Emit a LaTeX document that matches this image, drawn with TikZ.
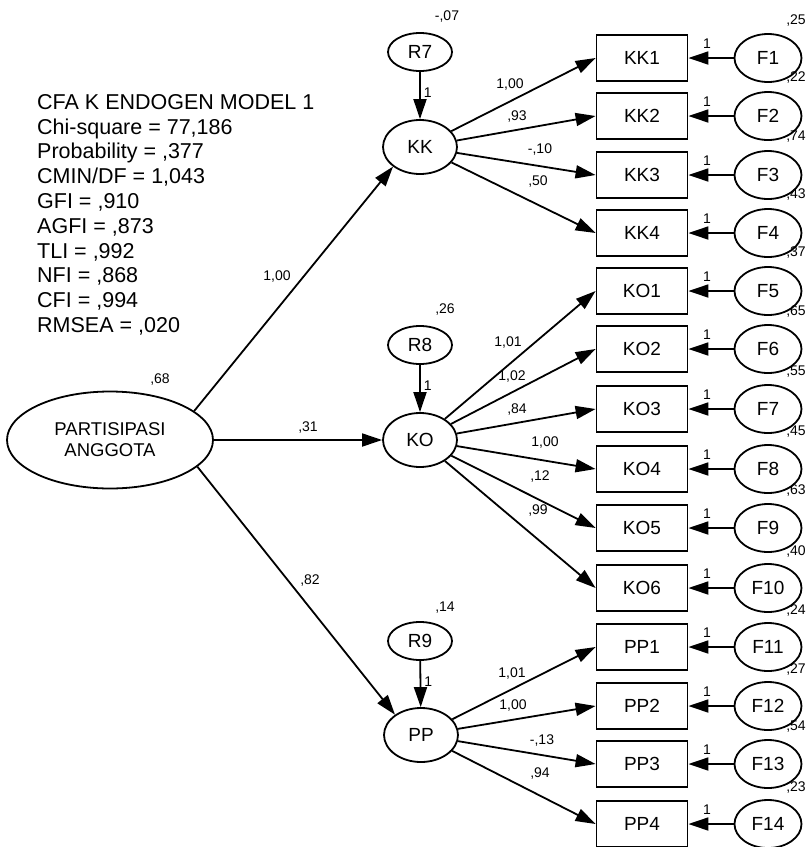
\documentclass[tikz,border=0pt]{standalone}
\usepackage{fontspec}
\setmainfont{Liberation Sans}
\usepackage{tikz}
\usetikzlibrary{arrows.meta,shapes.geometric}
\tikzset{
  latent/.style={draw, ellipse, line width=1.8pt, inner sep=0pt, minimum width=74pt, minimum height=54pt, font=\fontsize{19}{22}\selectfont},
  resid/.style={latent, minimum width=64pt, minimum height=38pt},
  errvar/.style={latent, minimum width=67pt, minimum height=48pt},
  indic/.style={draw, rectangle, line width=1.8pt, inner sep=0pt, minimum width=91pt, minimum height=46pt, font=\fontsize{19}{22}\selectfont},
  lbl/.style={inner sep=0pt, font=\fontsize{14}{16}\selectfont},
  regr/.style={line width=1.8pt, -{Triangle[length=20pt, width=13pt]}},
}

\begin{document}
\begin{tikzpicture}[x=1pt, y=-1pt]
\useasboundingbox (0,0) rectangle (807,847);
% fit statistics
\node[anchor=north west, inner sep=0pt, align=left, font=\fontsize{21.5}{24.8}\selectfont] (fit) at (37,94)
  {CFA K ENDOGEN MODEL 1\\Chi-square = 77,186\\Probability = ,377\\CMIN/DF = 1,043\\GFI = ,910\\AGFI = ,873\\TLI = ,992\\NFI = ,868\\CFI = ,994\\RMSEA = ,020};
% exogenous factor
\node[latent, minimum width=206pt, minimum height=97pt, align=center, font=\fontsize{18.5}{21}\selectfont] (pa) at (110,440) {PARTISIPASI\\ANGGOTA};
\node[lbl] (vpa) at (160,380) {,68};
% endogenous factors and residuals
\node[latent] (kk) at (420,147) {KK};
\node[latent] (ko) at (420,440) {KO};
\node[latent] (pp) at (421,735) {PP};
\node[resid] (r7) at (420,52) {R7};
\node[resid] (r8) at (420,345) {R8};
\node[resid] (r9) at (420,641) {R9};
\node[lbl] (vr7) at (447,17) {-,07};
\node[lbl] (vr8) at (445,310) {,26};
\node[lbl] (vr9) at (445,608) {,14};
\draw[regr] (r7) -- (kk) node[lbl, pos=0.45, right=3pt] (w7) {1};
\draw[regr] (r8) -- (ko) node[lbl, pos=0.45, right=3pt] (w8) {1};
\draw[regr] (r9) -- (pp) node[lbl, pos=0.45, right=3pt] (w9) {1};
\draw[regr] (pa.19) -- (kk.216);
\draw[regr] (pa.east) -- (ko.west);
\draw[regr] (pa.-17) -- (pp.142);
\node[lbl] (bkk) at (277,277) {1,00};
\node[lbl] (bko) at (308,428) {,31};
\node[lbl] (bpp) at (310,580) {,82};
% indicators
\node[indic] (kk1) at (642,58) {KK1};
\node[indic] (kk2) at (642,116) {KK2};
\node[indic] (kk3) at (642,175) {KK3};
\node[indic] (kk4) at (642,233) {KK4};
\node[indic] (ko1) at (642,291) {KO1};
\node[indic] (ko2) at (642,349) {KO2};
\node[indic] (ko3) at (642,409) {KO3};
\node[indic] (ko4) at (642,469) {KO4};
\node[indic] (ko5) at (642,528) {KO5};
\node[indic] (ko6) at (642,588) {KO6};
\node[indic] (pp1) at (642,647) {PP1};
\node[indic] (pp2) at (642,706) {PP2};
\node[indic] (pp3) at (642,764) {PP3};
\node[indic] (pp4) at (642,824) {PP4};
% loadings
\draw[regr] (kk) -- (kk1.west); \node[lbl] (lkk1) at (510,85) {1,00};
\draw[regr] (kk) -- (kk2.west); \node[lbl] (lkk2) at (517,117) {,93};
\draw[regr] (kk) -- (kk3.west); \node[lbl] (lkk3) at (540,150) {-,10};
\draw[regr] (kk) -- (kk4.west); \node[lbl] (lkk4) at (538,182) {,50};
\draw[regr] (ko) -- (ko1.west); \node[lbl] (lko1) at (508,343) {1,01};
\draw[regr] (ko) -- (ko2.west); \node[lbl] (lko2) at (512,377) {1,02};
\draw[regr] (ko) -- (ko3.west); \node[lbl] (lko3) at (517,410) {,84};
\draw[regr] (ko) -- (ko4.west); \node[lbl] (lko4) at (545,443) {1,00};
\draw[regr] (ko) -- (ko5.west); \node[lbl] (lko5) at (540,477) {,12};
\draw[regr] (ko) -- (ko6.west); \node[lbl] (lko6) at (538,510) {,99};
\draw[regr] (pp) -- (pp1.west); \node[lbl] (lpp1) at (512,673) {1,01};
\draw[regr] (pp) -- (pp2.west); \node[lbl] (lpp2) at (513,705) {1,00};
\draw[regr] (pp) -- (pp3.west); \node[lbl] (lpp3) at (542,740) {-,13};
\draw[regr] (pp) -- (pp4.west); \node[lbl] (lpp4) at (540,773) {,94};
% error terms
\node[errvar] (f1) at (768,58) {F1};
\node[errvar] (f2) at (768,116) {F2};
\node[errvar] (f3) at (768,175) {F3};
\node[errvar] (f4) at (768,233) {F4};
\node[errvar] (f5) at (768,291) {F5};
\node[errvar] (f6) at (768,349) {F6};
\node[errvar] (f7) at (768,409) {F7};
\node[errvar] (f8) at (768,469) {F8};
\node[errvar] (f9) at (768,528) {F9};
\node[errvar] (f10) at (768,588) {F10};
\node[errvar] (f11) at (768,647) {F11};
\node[errvar] (f12) at (768,706) {F12};
\node[errvar] (f13) at (768,764) {F13};
\node[errvar] (f14) at (768,824) {F14};
\draw[regr] (f1) -- (kk1); \node[lbl] (e1) at (707,44) {1}; \node[lbl] (v1) at (796,21) {,25};
\draw[regr] (f2) -- (kk2); \node[lbl] (e2) at (707,102) {1}; \node[lbl] (v2) at (796,78) {,22};
\draw[regr] (f3) -- (kk3); \node[lbl] (e3) at (707,161) {1}; \node[lbl] (v3) at (796,137) {,74};
\draw[regr] (f4) -- (kk4); \node[lbl] (e4) at (707,219) {1}; \node[lbl] (v4) at (796,195) {,43};
\draw[regr] (f5) -- (ko1); \node[lbl] (e5) at (707,277) {1}; \node[lbl] (v5) at (796,253) {,37};
\draw[regr] (f6) -- (ko2); \node[lbl] (e6) at (707,335) {1}; \node[lbl] (v6) at (796,312) {,65};
\draw[regr] (f7) -- (ko3); \node[lbl] (e7) at (707,395) {1}; \node[lbl] (v7) at (796,372) {,55};
\draw[regr] (f8) -- (ko4); \node[lbl] (e8) at (707,455) {1}; \node[lbl] (v8) at (796,432) {,45};
\draw[regr] (f9) -- (ko5); \node[lbl] (e9) at (707,514) {1}; \node[lbl] (v9) at (796,491) {,63};
\draw[regr] (f10) -- (ko6); \node[lbl] (e10) at (707,574) {1}; \node[lbl] (v10) at (796,551) {,40};
\draw[regr] (f11) -- (pp1); \node[lbl] (e11) at (707,633) {1}; \node[lbl] (v11) at (796,610) {,24};
\draw[regr] (f12) -- (pp2); \node[lbl] (e12) at (707,692) {1}; \node[lbl] (v12) at (796,669) {,27};
\draw[regr] (f13) -- (pp3); \node[lbl] (e13) at (707,750) {1}; \node[lbl] (v13) at (796,727) {,54};
\draw[regr] (f14) -- (pp4); \node[lbl] (e14) at (707,810) {1}; \node[lbl] (v14) at (796,787) {,23};
\end{tikzpicture}
\end{document}
